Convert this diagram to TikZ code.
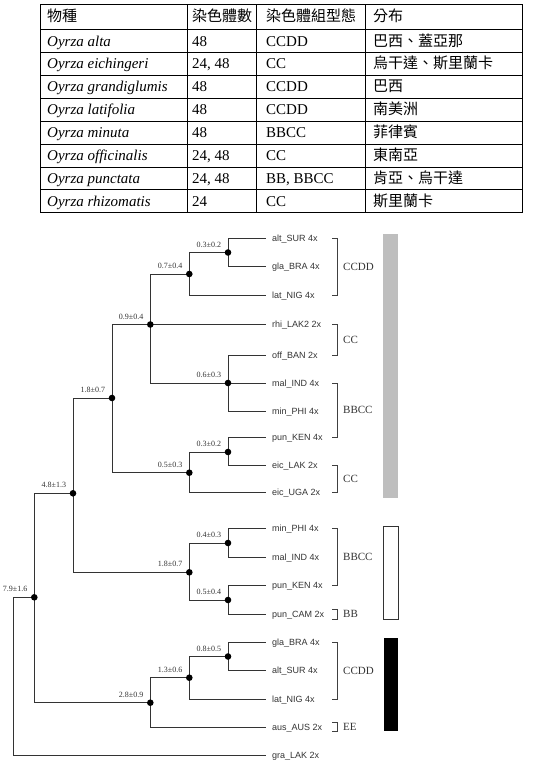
\documentclass[tikz,border=0pt]{standalone}
\usepackage{fontspec}
\setmainfont{Liberation Serif}
\newfontfamily\cjk{Noto Sans CJK TC}
\newfontfamily\leaffont{Liberation Sans}
\newcommand\tabrow[7]{%
  \node[cell] (c#1a) at (47,#2) {#3};
  \node[cell] (c#1b) at (192,#2) {#4};
  \node[cell] (c#1c) at (266,#2) {#5};
  \node[cell] (c#1d) at (373,#2) {#6#7};}
\newcommand\leafat[3]{%
  \coordinate (#1) at (265,#2);
  \node[leaf] (t#1) at (#1) {#3};}
\newcommand\inner[4]{%
  \coordinate (#1) at (#2,#3);
  \node[dot] (d#1) at (#1) {};
  \node[val] (v#1) at ([xshift=-6.8pt,yshift=5.5pt]#1) {#4};}
\newcommand\brak[4]{%
  \coordinate (b#1t) at (337.5,#2);
  \coordinate (b#1b) at (337.5,#3);
  \draw[brk] ([xshift=-5.5pt]b#1t) -- (b#1t) -- (b#1b) -- ([xshift=-5.5pt]b#1b);
  \node[grp] (g#1) at ([xshift=5.5pt]$(b#1t)!0.5!(b#1b)$) {#4};}
\usetikzlibrary{calc}
\begin{document}
\begin{tikzpicture}[x=1pt,y=-1pt,
  cell/.style={anchor=base west, inner sep=0, font=\fontsize{15}{15}\selectfont},
  tline/.style={line width=0.8pt, draw=black},
  tree/.style={line width=1pt, draw=black!80, line cap=rect},
  dot/.style={circle, fill=black, inner sep=0, minimum size=6.6pt},
  val/.style={font=\fontsize{8}{8}\selectfont, anchor=base east, inner sep=0, text=black!80},
  leaf/.style={font=\leaffont\fontsize{9}{9}\selectfont, anchor=base west, inner sep=0, xshift=7pt, yshift=-3.2pt, text=black!80},
  grp/.style={font=\fontsize{11}{11}\selectfont, anchor=west, inner sep=0, text=black!80},
  brk/.style={line width=0.8pt, draw=black!75}]
\useasboundingbox (0,0) rectangle (540,771);

% ---------- table ----------
\draw[tline] (40.5,4) rectangle (522.5,212.7);
\foreach \xx in {187,256.5,365} \draw[tline] (\xx,4) -- (\xx,212.7);
\foreach \k in {0,...,7} \draw[tline] (40.5,29.7+22.875*\k) -- (522.5,29.7+22.875*\k);
\tabrow{0}{21.5}{\cjk 物種}{\cjk 染色體數}{\cjk 染色體組型態}{\cjk 分布}{}
\tabrow{1}{46.0}{\textit{Oyrza alta}}{48}{CCDD}{\cjk 巴西、蓋亞那}{}
\tabrow{2}{68.9}{\textit{Oyrza eichingeri}}{24, 48}{CC}{\cjk 烏干達、斯里蘭卡}{}
\tabrow{3}{91.8}{\textit{Oyrza grandiglumis}}{48}{CCDD}{\cjk 巴西}{}
\tabrow{4}{114.6}{\textit{Oyrza latifolia}}{48}{CCDD}{\cjk 南美洲}{}
\tabrow{5}{137.5}{\textit{Oyrza minuta}}{48}{BBCC}{\cjk 菲律賓}{}
\tabrow{6}{160.4}{\textit{Oyrza officinalis}}{24, 48}{CC}{\cjk 東南亞}{}
\tabrow{7}{183.3}{\textit{Oyrza punctata}}{24, 48}{BB, BBCC}{\cjk 肯亞、烏干達}{}
\tabrow{8}{206.1}{\textit{Oyrza rhizomatis}}{24}{CC}{\cjk 斯里蘭卡}{}

% ---------- leaves ----------
\leafat{A1}{238.3}{alt\_SUR 4x}
\leafat{A2}{266.7}{gla\_BRA 4x}
\leafat{A3}{295.0}{lat\_NIG 4x}
\leafat{A4}{324.5}{rhi\_LAK2 2x}
\leafat{A5}{355.0}{off\_BAN 2x}
\leafat{A6}{383.0}{mal\_IND 4x}
\leafat{A7}{411.5}{min\_PHI 4x}
\leafat{A8}{437.5}{pun\_KEN 4x}
\leafat{A9}{465.7}{eic\_LAK 2x}
\leafat{A10}{492.0}{eic\_UGA 2x}
\leafat{B1}{528.3}{min\_PHI 4x}
\leafat{B2}{557.3}{mal\_IND 4x}
\leafat{B3}{585.7}{pun\_KEN 4x}
\leafat{B4}{614.0}{pun\_CAM 2x}
\leafat{B5}{642.0}{gla\_BRA 4x}
\leafat{B6}{670.7}{alt\_SUR 4x}
\leafat{B7}{699.0}{lat\_NIG 4x}
\leafat{B8}{727.0}{aus\_AUS 2x}
\leafat{B9}{755.7}{gra\_LAK 2x}

% ---------- internal node positions ----------
\coordinate (root) at (13.7,597.3);
\coordinate (n1) at (228,252.5);
\coordinate (n2) at (189.3,274);
\coordinate (n3) at (150.3,324.5);
\coordinate (n4) at (228,383);
\coordinate (n5) at (112,398);
\coordinate (n6) at (189.3,472.7);
\coordinate (n7) at (228,452);
\coordinate (n8) at (73,493.3);
\coordinate (n9) at (189.3,572.3);
\coordinate (n10) at (228,543);
\coordinate (n11) at (228,600);
\coordinate (n12) at (34.3,597.3);
\coordinate (n13) at (150.3,702.7);
\coordinate (n14) at (189.3,677.7);
\coordinate (n15) at (228,656.5);

% ---------- branches ----------
\draw[tree] (n1) |- (A1); \draw[tree] (n1) |- (A2);
\draw[tree] (n2) |- (n1); \draw[tree] (n2) |- (A3);
\draw[tree] (n3) |- (n2); \draw[tree] (n3) -- (A4); \draw[tree] (n3) |- (n4);
\draw[tree] (n4) |- (A5); \draw[tree] (n4) -- (A6); \draw[tree] (n4) |- (A7);
\draw[tree] (n5) |- (n3); \draw[tree] (n5) |- (n6);
\draw[tree] (n6) |- (n7); \draw[tree] (n6) |- (A10);
\draw[tree] (n7) |- (A8); \draw[tree] (n7) |- (A9);
\draw[tree] (n8) |- (n5); \draw[tree] (n8) |- (n9);
\draw[tree] (n9) |- (n10); \draw[tree] (n9) |- (n11);
\draw[tree] (n10) |- (B1); \draw[tree] (n10) |- (B2);
\draw[tree] (n11) |- (B3); \draw[tree] (n11) |- (B4);
\draw[tree] (n12) |- (n8); \draw[tree] (n12) |- (n13);
\draw[tree] (n13) |- (n14); \draw[tree] (n13) |- (B8);
\draw[tree] (n14) |- (n15); \draw[tree] (n14) |- (B7);
\draw[tree] (n15) |- (B5); \draw[tree] (n15) |- (B6);
\draw[tree] (root) -- (n12); \draw[tree] (root) |- (B9);

% ---------- dots and values ----------
\foreach \n/\v in {n1/0.3±0.2, n2/0.7±0.4, n3/0.9±0.4, n4/0.6±0.3, n5/1.8±0.7,
  n6/0.5±0.3, n7/0.3±0.2, n8/4.8±1.3, n9/1.8±0.7, n10/0.4±0.3, n11/0.5±0.4,
  n12/7.9±1.6, n13/2.8±0.9, n14/1.3±0.6, n15/0.8±0.5}{
  \node[dot] (d\n) at (\n) {};
  \node[val] (v\n) at ([xshift=-6.8pt,yshift=5.5pt]\n) {\v};
}

% ---------- brackets ----------
\brak{1}{238.3}{295.0}{CCDD}
\brak{2}{324.5}{355.0}{CC}
\brak{3}{383.0}{437.5}{BBCC}
\brak{4}{465.7}{492.0}{CC}
\brak{5}{528.3}{585.7}{BBCC}
\brak{6}{609.0}{619.0}{BB}
\brak{7}{642.0}{699.0}{CCDD}
\brak{8}{722.5}{731.5}{EE}

% ---------- bars ----------
\fill[fill={rgb,255:red,190;green,190;blue,190}] (383,234) rectangle (398,497.7);
\draw[line width=0.8pt, draw=black!80] (383,526) rectangle (398,619);
\fill[black] (384,638) rectangle (398,731);
\end{tikzpicture}
\end{document}
